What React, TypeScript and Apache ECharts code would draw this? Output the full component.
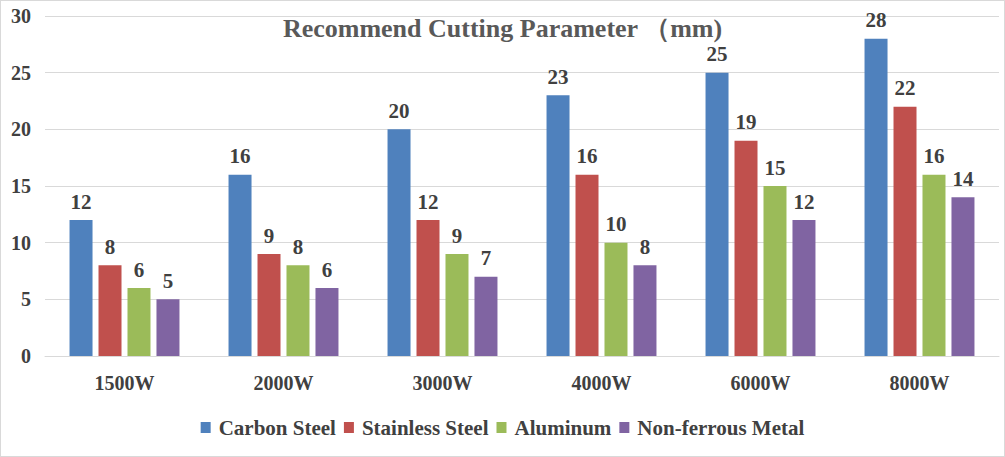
import React, { useEffect, useRef } from "react";
import * as echarts from "echarts";

const categories = ["1500W", "2000W", "3000W", "4000W", "6000W", "8000W"];
const carbonSteel = [12, 16, 20, 23, 25, 28];
const stainlessSteel = [8, 9, 12, 16, 19, 22];
const aluminum = [6, 8, 9, 10, 15, 16];
const nonFerrous = [5, 6, 7, 8, 12, 14];
const seriesNames = ["Carbon Steel", "Stainless Steel", "Aluminum", "Non-ferrous Metal"];
const colors = ["#4F81BD", "#C0504D", "#9BBB59", "#8064A2"];

const FONT = "Liberation Serif";

export default function App() {
  const ref = useRef<HTMLDivElement>(null);
  useEffect(() => {
    document.body.style.margin = "0";
    const chart = echarts.init(ref.current!, null, { renderer: "svg" });
    const data = [carbonSteel, stainlessSteel, aluminum, nonFerrous];
    chart.setOption({
      animation: false,
      backgroundColor: "#ffffff",
      textStyle: { fontFamily: FONT },
      title: {
        text: "Recommend Cutting Parameter （mm)",
        left: "center",
        top: 9,
        textStyle: { fontFamily: FONT, fontWeight: "bold", fontSize: 26, color: "#595959" },
      },
      legend: {
        data: seriesNames,
        bottom: 13,
        left: "center",
        itemWidth: 10,
        itemHeight: 11,
        itemGap: 8,
        icon: "rect",
        textStyle: { fontFamily: FONT, fontWeight: "bold", fontSize: 21, color: "#404040", padding: [0, 0, 0, 3] },
      },
      grid: { left: 44, right: 5, top: 15, bottom: 100, containLabel: false },
      xAxis: {
        type: "category",
        data: categories,
        axisLine: { show: true, lineStyle: { color: "#d9d9d9" } },
        axisTick: { show: false },
        axisLabel: { fontFamily: FONT, fontWeight: "bold", fontSize: 20, color: "#404040", margin: 17 },
      },
      yAxis: {
        type: "value",
        min: 0,
        max: 30,
        interval: 5,
        axisLine: { show: false },
        axisTick: { show: false },
        splitLine: { lineStyle: { color: "#d9d9d9" } },
        axisLabel: { fontFamily: FONT, fontWeight: "bold", fontSize: 20, color: "#404040", margin: 14 },
      },
      series: seriesNames.map((name, i) => ({
        name,
        type: "bar",
        data: data[i],
        barWidth: 23,
        barGap: "26%",
        itemStyle: { color: colors[i] },
        label: {
          show: true,
          position: "top",
          distance: 8,
          fontFamily: FONT,
          fontWeight: "bold",
          fontSize: 21,
          color: "#404040",
        },
      })),
    });
    return () => chart.dispose();
  }, []);
  return (
    <div
      ref={ref}
      style={{
        position: "absolute",
        left: 0,
        top: 0,
        width: 1005,
        height: 457,
        boxSizing: "border-box",
        border: "1px solid #d9d9d9",
      }}
    />
  );
}
